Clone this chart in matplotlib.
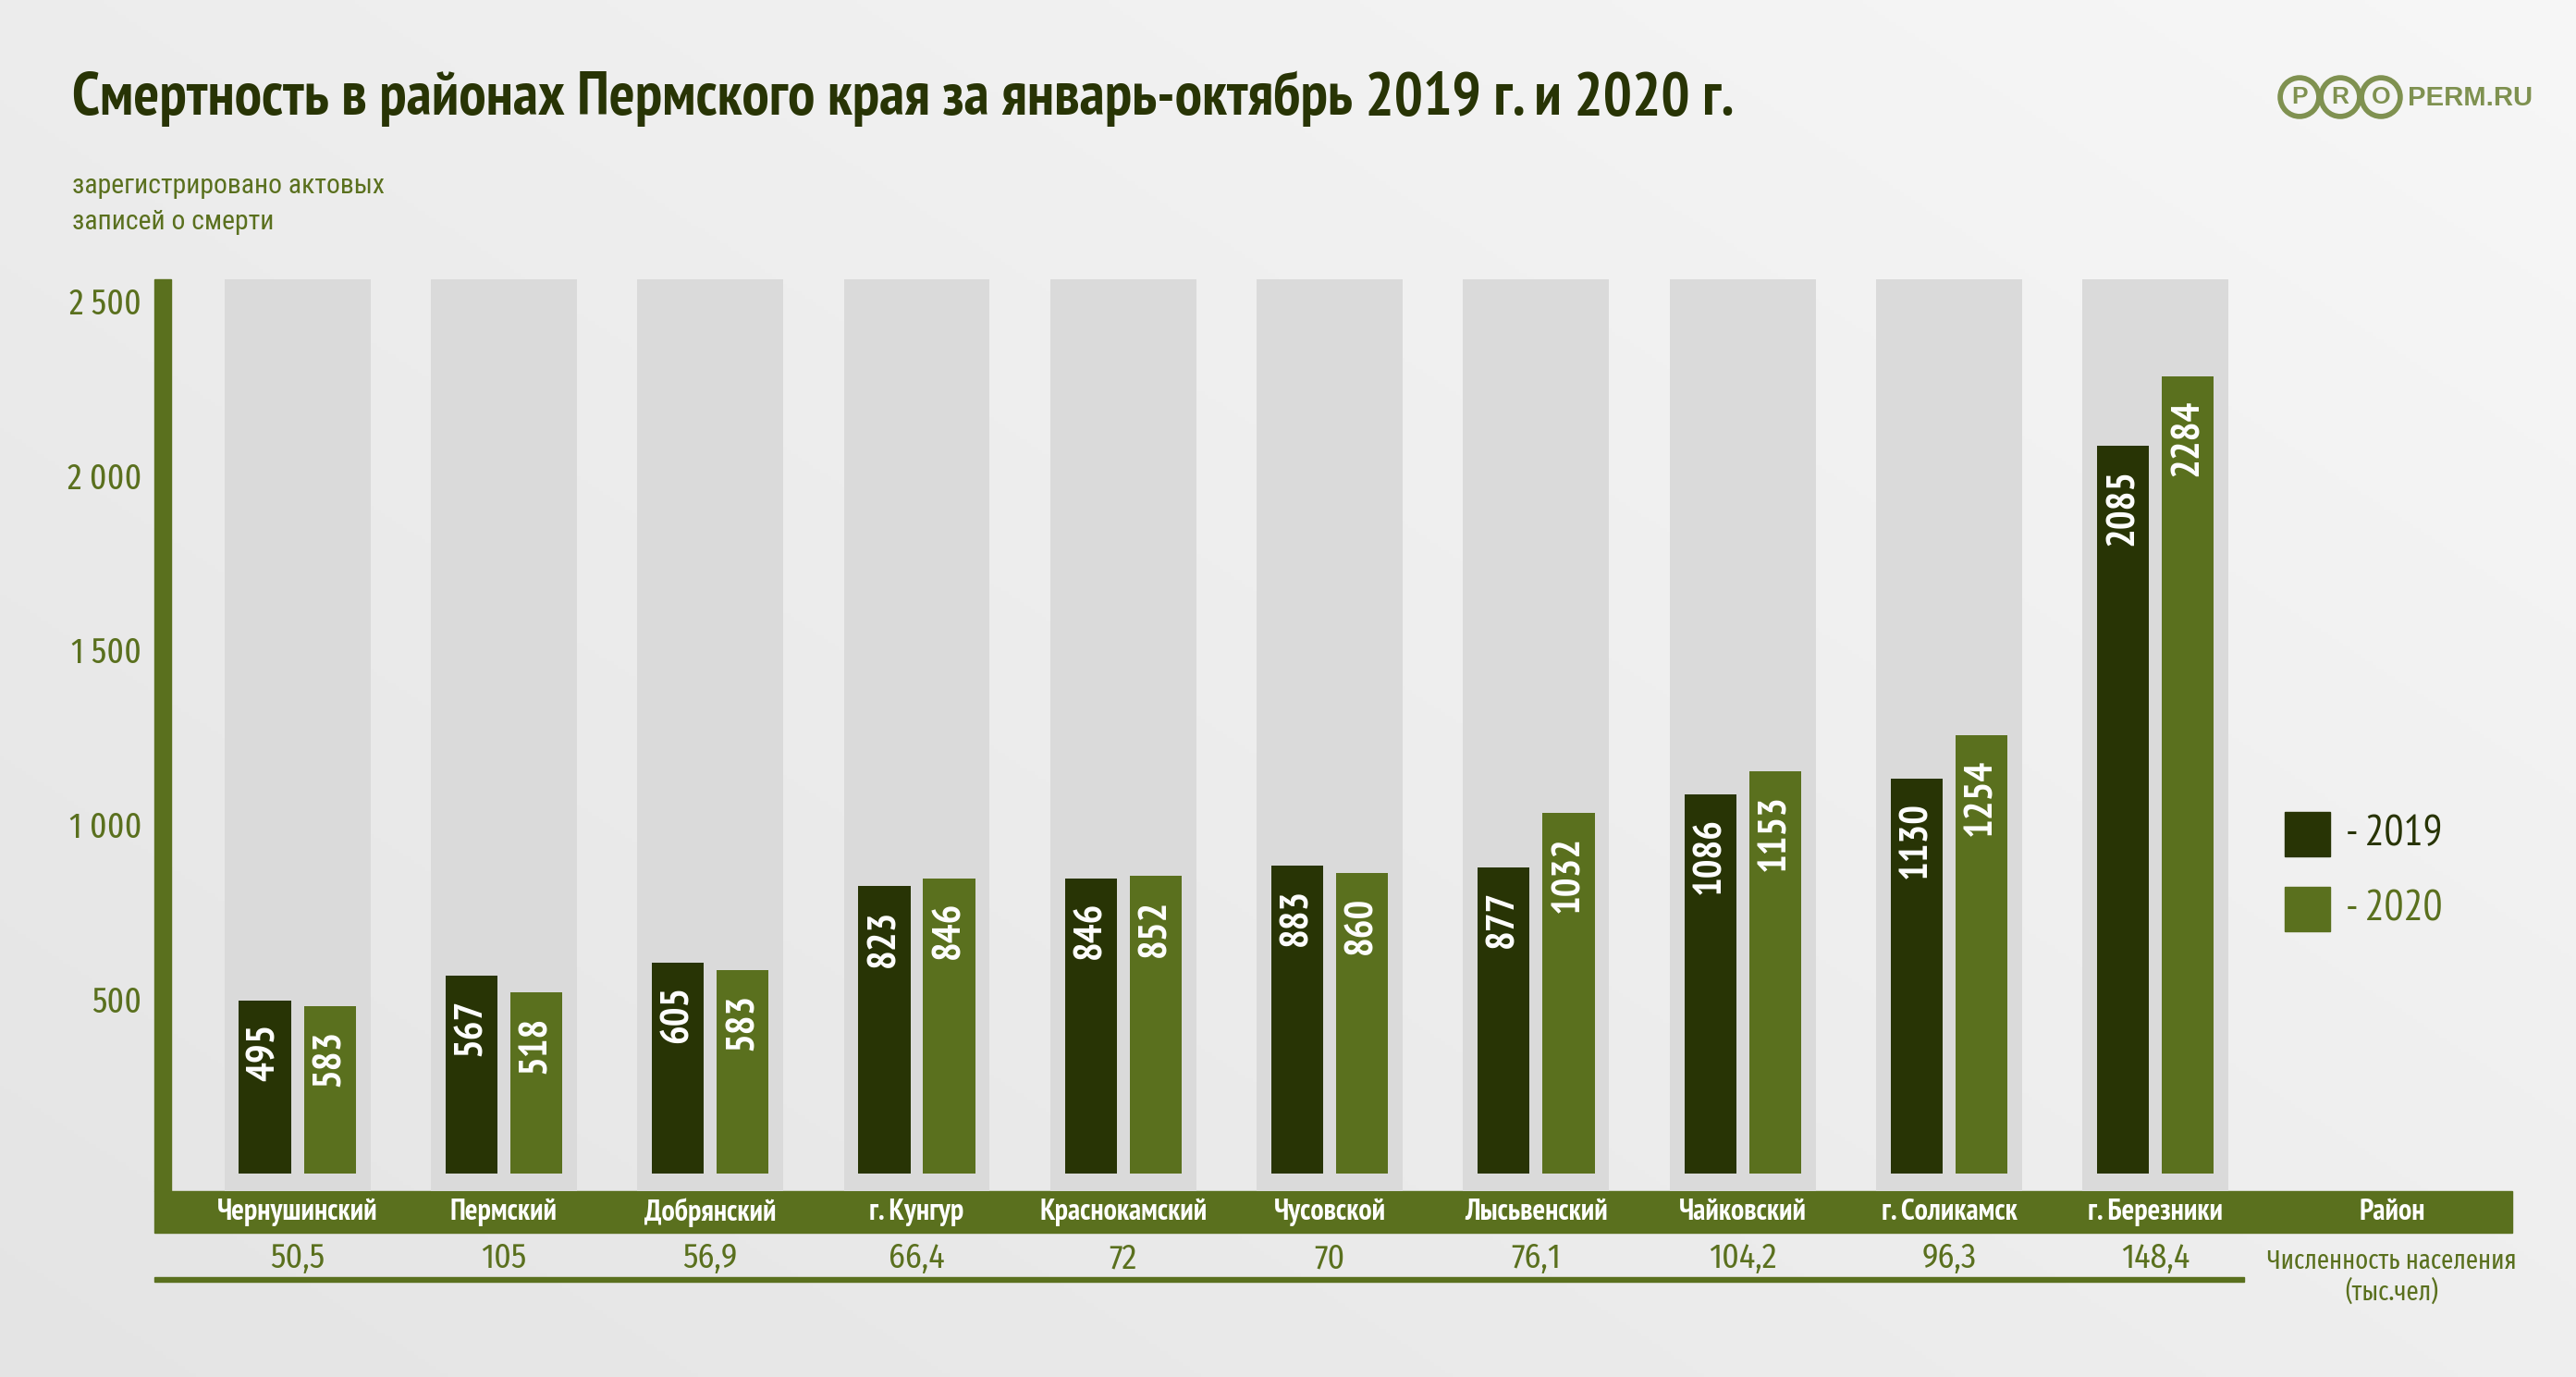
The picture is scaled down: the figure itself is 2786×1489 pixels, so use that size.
import numpy as np
import matplotlib
matplotlib.use('Agg')
import matplotlib.pyplot as plt
from matplotlib.patches import Rectangle, Circle
from matplotlib.textpath import TextPath
from matplotlib.font_manager import FontProperties, fontManager
import matplotlib.transforms as mtransforms

# ---------------- data ----------------
districts = ['Чернушинский', 'Пермский', 'Добрянский', 'г. Кунгур', 'Краснокамский',
             'Чусовской', 'Лысьвенский', 'Чайковский', 'г. Соликамск', 'г. Березники']
deaths_2019 = [495, 567, 605, 823, 846, 883, 877, 1086, 1130, 2085]
# bar heights for 2020 as drawn in the picture
deaths_2020 = [480, 518, 583, 846, 852, 860, 1032, 1153, 1254, 2284]
labels_2019 = ['495', '567', '605', '823', '846', '883', '877', '1086', '1130', '2085']
labels_2020 = ['583', '518', '583', '846', '852', '860', '1032', '1153', '1254', '2284']
population = ['50,5', '105', '56,9', '66,4', '72', '70', '76,1', '104,2', '96,3', '148,4']
yticks = [500, 1000, 1500, 2000, 2500]
ytick_labels = ['500', '1 000', '1 500', '2 000', '2 500']
series_names = ['- 2019', '- 2020']
title = 'Смертность в районах Пермского края за январь-октябрь 2019 г. и 2020 г.'
ylabel_lines = ['зарегистрировано актовых', 'записей о смерти']

# ---------------- style ----------------
DARK = '#283405'
GREEN = '#5a701e'
COLGRAY = '#dadada'
LOGO = '#7f9150'

available = {f.name for f in fontManager.ttflist}
CANDIDATES = [f for f in ['Roboto Condensed', 'PT Sans Narrow', 'Fira Sans Condensed',
                          'Fira Sans Extra Condensed', 'Liberation Sans Narrow']
              if f in available] or ['DejaVu Sans']
plt.rcParams['font.family'] = [CANDIDATES[0], 'DejaVu Sans']


def choose(sample, target_w, target_cap, weight='normal', cap_char='Н', cands=None):
    """pick family & size (pt) so the sample's ink width matches target_w px
    and cap height is as close as possible to target_cap px"""
    best = None
    for fam in (cands or CANDIDATES):
        fp = FontProperties(family=fam, weight=weight)
        w1 = TextPath((0, 0), sample, size=100, prop=fp).get_extents().width / 100
        c1 = TextPath((0, 0), cap_char, size=100, prop=fp).get_extents().height / 100
        if w1 <= 0:
            continue
        size = target_w * 0.72 / w1
        cap = c1 * size / 0.72
        score = abs(np.log(cap / target_cap))
        if best is None or score < best[0]:
            best = (score, fam, size)
    return best[1], best[2]


W, H = 2786, 1489
fig = plt.figure(figsize=(W / 100, H / 100), dpi=100)

# background overlay axes in pixel coordinates
ax_bg = fig.add_axes([0, 0, 1, 1], zorder=0)
ax_bg.set_xlim(0, W)
ax_bg.set_ylim(H, 0)
ax_bg.axis('off')
yy, xx = np.mgrid[0:H:4, 0:W:4]
tt = 0.55 * (xx / W) + 0.45 * (1 - yy / H)
lo, hi = 0.895, 0.968
img = lo + (hi - lo) * tt
ax_bg.imshow(np.dstack([img, img, img]), extent=[0, W, H, 0], aspect='auto', zorder=0)

# main axes
zero_px = 1269.0
px_per_unit = 0.3776
ax_top_px, ax_bot_px = 302, 1288
ax_left_px, ax_right_px = 167, 2717
col0_px, pitch_px = 321.6, 223.3
ax = fig.add_axes([ax_left_px / W, 1 - ax_bot_px / H,
                   (ax_right_px - ax_left_px) / W, (ax_bot_px - ax_top_px) / H], zorder=1)
ax.set_facecolor('none')
ax.set_xlim((ax_left_px - col0_px) / pitch_px, (ax_right_px - col0_px) / pitch_px)
ymin = -(ax_bot_px - zero_px) / px_per_unit
ymax = (zero_px - ax_top_px) / px_per_unit
ax.set_ylim(ymin, ymax)
for s in ax.spines.values():
    s.set_visible(False)
ax.set_xticks([])
tfam, tsize = choose('2 500', 75, 27, cap_char='5')
ax.set_yticks(yticks, ytick_labels)
ax.tick_params(axis='y', length=0, pad=10, labelsize=tsize, labelcolor=GREEN)
for lab in ax.get_yticklabels():
    lab.set_family([tfam, 'DejaVu Sans'])

x = np.arange(len(districts))
ax.bar(x, ymax - ymin, bottom=ymin, width=0.707, color=COLGRAY, zorder=1)
off, bw = 0.157, 0.252
ax.bar(x - off, deaths_2019, width=bw, color=DARK, zorder=2)
ax.bar(x + off, deaths_2020, width=bw, color=GREEN, zorder=2)
bfam, bsize = choose('2284', 80, 32, weight='bold', cap_char='2')
for xs, vals, labs in ((x - off, deaths_2019, labels_2019), (x + off, deaths_2020, labels_2020)):
    for xi, v, lab in zip(xs, vals, labs):
        ax.annotate(lab, (xi, v), xytext=(0, -18), textcoords='offset points',
                    rotation=90, ha='center', va='top', color='white', fontsize=bsize,
                    fontweight='bold', family=[bfam, 'DejaVu Sans'], zorder=3)

# vertical axis bar
ax_bg.add_patch(Rectangle((167, 302), 18, 1288 - 302, color=GREEN, zorder=2))

# category band
ax_bg.add_patch(Rectangle((167, 1288), 2717 - 167, 45, color=GREEN, zorder=2))
ax_bg.add_patch(Rectangle((167, 1381), 2427 - 167, 5, color=GREEN, zorder=2))
bt = mtransforms.blended_transform_factory(ax.transData, ax_bg.transData)
cfam, csize = choose('Чернушинский', 171, 23, weight='bold', cap_char='Ч')
for xi, name in zip(x, districts):
    ax_bg.text(xi, 1311, name, transform=bt, ha='center', va='center',
               color='white', fontweight='bold', fontsize=csize,
               family=[cfam, 'DejaVu Sans'], zorder=3)
ax_bg.text(2587, 1311, 'Район', ha='center', va='center', color='white',
           fontweight='bold', fontsize=csize, family=[cfam, 'DejaVu Sans'], zorder=3)

pfam, psize = choose('50,5', 57, 25, cap_char='5')
for xi, p in zip(x, population):
    ax_bg.text(xi, 1361, p, transform=bt, ha='center', va='center',
               color=GREEN, fontsize=psize, family=[pfam, 'DejaVu Sans'], zorder=3)
nfam, nsize = choose('Численность населения', 267, 20, cap_char='Ч')
ax_bg.text(2587, 1363, 'Численность населения', ha='center', va='center',
           color=GREEN, fontsize=nsize, family=[nfam, 'DejaVu Sans'], zorder=3)
ax_bg.text(2587, 1397, '(тыс.чел)', ha='center', va='center', color=GREEN,
           fontsize=nsize, family=[nfam, 'DejaVu Sans'], zorder=3)

# title
ttfam, ttsize = choose(title, 1791, 48, weight='bold', cap_char='С')
ax_bg.text(78, 107, title, ha='left', va='center', color=DARK,
           fontweight='bold', fontsize=ttsize, family=[ttfam, 'DejaVu Sans'], zorder=3)

# y label
yfam, ysize = choose(ylabel_lines[0], 336, 21, cap_char='Н')
ax_bg.text(78, 201, ylabel_lines[0], ha='left', va='center', color=GREEN,
           fontsize=ysize, family=[yfam, 'DejaVu Sans'], zorder=3)
ax_bg.text(78, 240, ylabel_lines[1], ha='left', va='center', color=GREEN,
           fontsize=ysize, family=[yfam, 'DejaVu Sans'], zorder=3)

# legend
ax_bg.add_patch(Rectangle((2471, 878), 49, 48, color=DARK, zorder=2))
ax_bg.add_patch(Rectangle((2471, 959), 49, 48, color=GREEN, zorder=2))
lfam, lsize = choose('- 2019', 100, 35, cap_char='2')
ax_bg.text(2537, 902, series_names[0], ha='left', va='center', color=DARK,
           fontsize=lsize, family=[lfam, 'DejaVu Sans'], zorder=3)
ax_bg.text(2537, 983, series_names[1], ha='left', va='center', color=GREEN,
           fontsize=lsize, family=[lfam, 'DejaVu Sans'], zorder=3)

# logo
LOGO_FAM = [f for f in ['Liberation Sans', 'DejaVu Sans'] if f in available][0]
for cx, letter in zip([2487, 2531, 2575], ['P', 'R', 'O']):
    ax_bg.add_patch(Circle((cx, 105), 20.9, fill=False, lw=4.1, ec=LOGO, zorder=3))
    ax_bg.text(cx, 105.5, letter, ha='center', va='center', color=LOGO,
               fontweight='bold', fontsize=19, family=[LOGO_FAM, 'DejaVu Sans'],
               zorder=3)
gfam, gsize = choose('PERM.RU', 131, 18, weight='bold', cap_char='P', cands=[LOGO_FAM])
ax_bg.text(2604, 105.5, 'PERM.RU', ha='left', va='center', color=LOGO,
           fontweight='bold', fontsize=gsize, family=[gfam, 'DejaVu Sans'],
           zorder=3)

fig.savefig('out.png', dpi=100)
